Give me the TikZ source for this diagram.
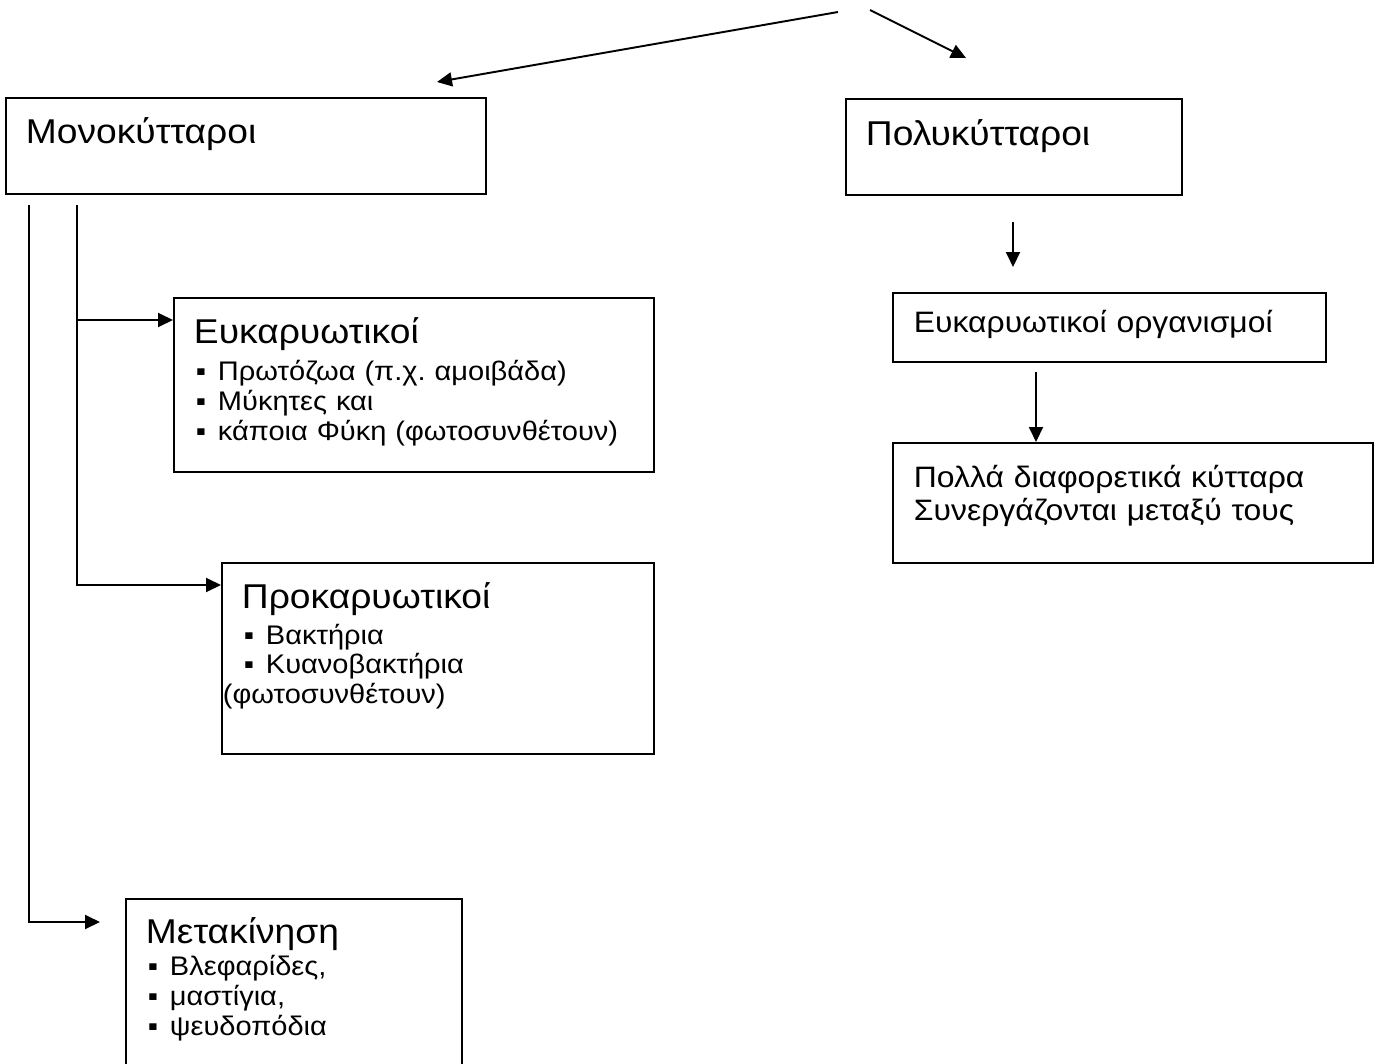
\documentclass[tikz,border=0pt]{standalone}
\usepackage{fontspec}
\setmainfont{Liberation Sans}[FakeStretch=1.08]
\usepackage{tikz}
\usetikzlibrary{arrows.meta, calc, positioning}
\tikzstyle{box} = [draw=black, line width=1.1pt, anchor=north west,
 inner xsep=0.4cm, inner ysep=0pt, align=left,
 font=\fontsize{15.3}{17}\selectfont]
\tikzstyle{rbox} = [box, inner xsep=0.42cm, font=\fontsize{16.8}{18.7}\selectfont]
\tikzstyle{arrow} = [line width=1.1pt, -{Triangle[length=0.3cm, width=0.28cm]}]
\newcommand{\itm}{\makebox[0.48cm][l]{\hspace{0.04cm}▪}}
\newcommand{\hd}[2][0pt]{{\fontsize{19.6}{21}\selectfont #2\par}\vspace{#1}}
\frenchspacing

\begin{document}
\begin{tikzpicture}[x=0.02cm, y=-0.02cm]
	\useasboundingbox (0,0) rectangle (1375,1064);
	% Kästen
	\node[box, text width=8.8cm, text height=0.92cm, text depth=1cm] (mono) at (5,97) {\hd{Μονοκύτταροι}}; % einzellig
	\node[box, text width=5.92cm, text height=0.94cm, text depth=0.98cm] (poly) at (845,98) {\hd{Πολυκύτταροι}}; % mehrzellig
	\node[box, text width=8.8cm, text height=0.92cm, text depth=2.56cm] (euk) at (173,297)
		{\hd[4pt]{Ευκαρυωτικοί}\itm Πρωτόζωα (π.χ. αμοιβάδα)\\ \itm Μύκητες και\\ \itm κάποια Φύκη (φωτοσυνθέτουν)};
	\node[box, text width=7.84cm, text height=0.92cm, text depth=2.9cm] (prok) at (221,562)
		{\hd[3pt]{Προκαρυωτικοί}\itm Βακτήρια\\ \itm Κυανοβακτήρια\\ \hspace*{-0.38cm}(φωτοσυνθέτουν)};
	\node[box, text width=5.92cm, text height=0.9cm, text depth=2.94cm] (meta) at (125,898)
		{\hd[1pt]{Μετακίνηση}\itm Βλεφαρίδες,\\ \itm μαστίγια,\\ \itm ψευδοπόδια};
	\node[rbox, text width=7.82cm, text height=0.8cm, text depth=0.58cm] (eukorg) at (892,292) {Ευκαρυωτικοί οργανισμοί};
	\node[rbox, text width=8.76cm, text height=0.9cm, text depth=1.5cm] (poll) at (892,442)
		{Πολλά διαφορετικά κύτταρα\\ Συνεργάζονται μεταξύ τους};
	% Pfeile oben
	\coordinate (topL) at (838,12);
	\coordinate (tipL) at (437,82);
	\coordinate (topR) at (870,10);
	\coordinate (tipR) at (966,58);
	\draw[arrow] (topL) -- (tipL);
	\draw[arrow] (topR) -- (tipR);
	% Verbindungen links
	\coordinate (outer) at ($(mono.south west)+(24,10)$);
	\coordinate (inner) at ($(mono.south west)+(72,10)$);
	\draw[arrow] (outer) |- ($(meta.north west)+(-25,24)$); % zur Bewegung
	\draw[arrow] (inner) |- ($(prok.north west)+(0,23)$); % zu Prokaryoten
	\draw[arrow] ($(inner |- euk.north west)+(0,23)$) -- ($(euk.north west)+(0,23)$); % zu Eukaryoten
	% Verbindungen rechts
	\draw[arrow] ($(poly.south west)+(168,26)$) -- ($(eukorg.north west)+(121,-25)$);
	\draw[arrow] ($(eukorg.south west)+(144,9)$) -- ($(poll.north west)+(144,0)$);
\end{tikzpicture}
\end{document}
